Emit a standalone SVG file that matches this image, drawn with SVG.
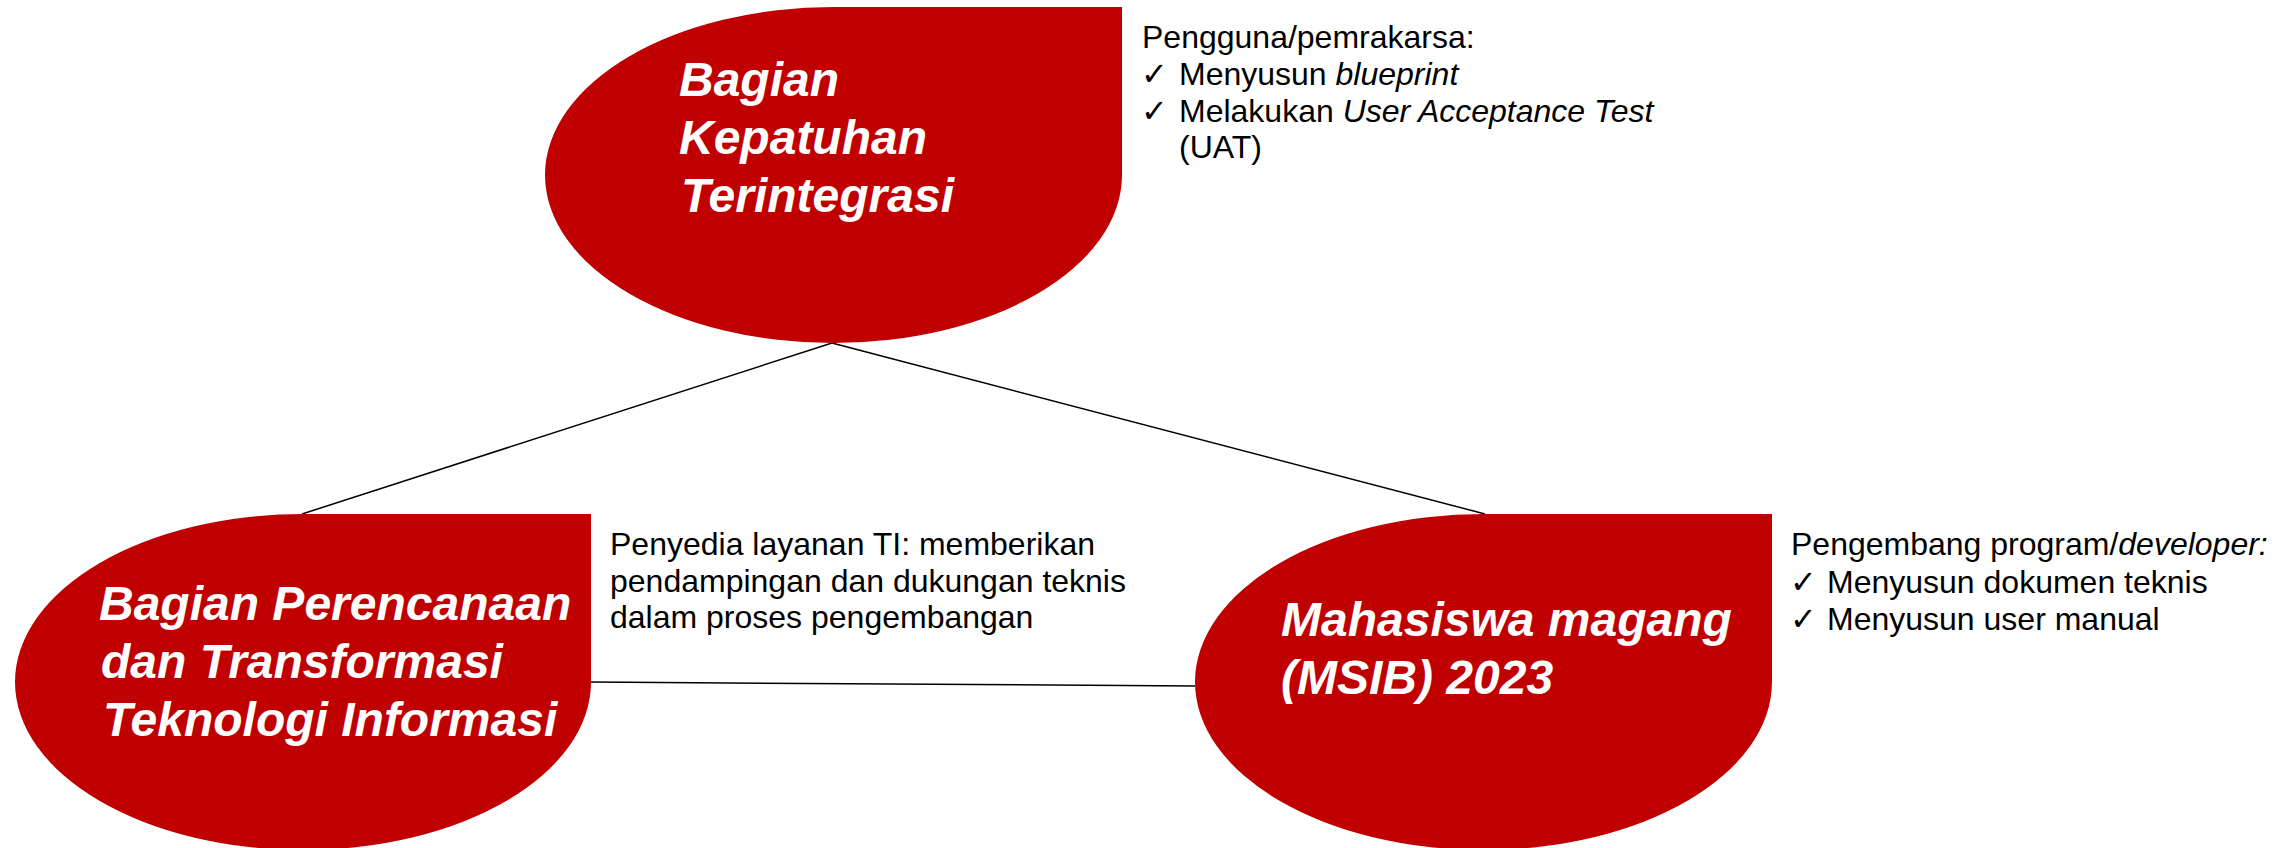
<svg xmlns="http://www.w3.org/2000/svg" width="2290" height="848" viewBox="0 0 2290 848">
<style>
.shape{fill:#C00000;}
.title{font-family:"Liberation Sans",Arial,sans-serif;font-weight:bold;font-style:italic;font-size:48px;fill:#FFFFFF;}
.note{font-family:"Liberation Sans",Arial,sans-serif;font-size:32px;fill:#000000;}
.chk{font-family:"DejaVu Sans",sans-serif;font-size:32px;fill:#000000;}
.conn{stroke:#000000;stroke-width:1.5;fill:none;}
</style>
<rect width="2290" height="848" fill="#FFFFFF"/>
<g id="connectors">
<line class="conn" x1="832" y1="343" x2="302" y2="514"/>
<line class="conn" x1="832" y1="343" x2="1485" y2="514"/>
<line class="conn" x1="591" y1="682" x2="1195" y2="686"/>
</g>
<g id="node-kepatuhan">
<path class="shape" d="M833.5 7 L1122 7 L1122 175 A288.5 168 0 0 1 833.5 343 A288.5 168 0 0 1 545 175 A288.5 168 0 0 1 833.5 7 Z"/>
<text class="title" x="679" y="96">Bagian</text>
<text class="title" x="679" y="154">Kepatuhan</text>
<text class="title" x="681" y="212">Terintegrasi</text>
</g>
<g id="note-kepatuhan">
<text class="note" x="1142" y="48">Pengguna/pemrakarsa:</text>
<text class="chk" x="1141" y="85">✓</text>
<text class="note" x="1179" y="85">Menyusun <tspan font-style="italic">blueprint</tspan></text>
<text class="chk" x="1141" y="122">✓</text>
<text class="note" x="1179" y="122">Melakukan <tspan font-style="italic">User Acceptance Test</tspan></text>
<text class="note" x="1179" y="158">(UAT)</text>
</g>
<g id="node-perencanaan">
<path class="shape" d="M303 514 L591 514 L591 682 A288 168 0 0 1 303 850 A288 168 0 0 1 15 682 A288 168 0 0 1 303 514 Z"/>
<text class="title" x="99" y="620">Bagian Perencanaan</text>
<text class="title" x="101" y="678">dan Transformasi</text>
<text class="title" x="103" y="736">Teknologi Informasi</text>
</g>
<g id="note-perencanaan">
<text class="note" x="610" y="555">Penyedia layanan TI: memberikan</text>
<text class="note" x="610" y="592">pendampingan dan dukungan teknis</text>
<text class="note" x="610" y="628">dalam proses pengembangan</text>
</g>
<g id="node-mahasiswa">
<path class="shape" d="M1483.5 514 L1772 514 L1772 682 A288.5 168 0 0 1 1483.5 850 A288.5 168 0 0 1 1195 682 A288.5 168 0 0 1 1483.5 514 Z"/>
<text class="title" x="1281" y="636">Mahasiswa magang</text>
<text class="title" x="1281" y="694">(MSIB) 2023</text>
</g>
<g id="note-mahasiswa">
<text class="note" x="1791" y="555">Pengembang program/<tspan font-style="italic">developer:</tspan></text>
<text class="chk" x="1790" y="593">✓</text>
<text class="note" x="1827" y="593">Menyusun dokumen teknis</text>
<text class="chk" x="1790" y="630">✓</text>
<text class="note" x="1827" y="630">Menyusun user manual</text>
</g>
</svg>
